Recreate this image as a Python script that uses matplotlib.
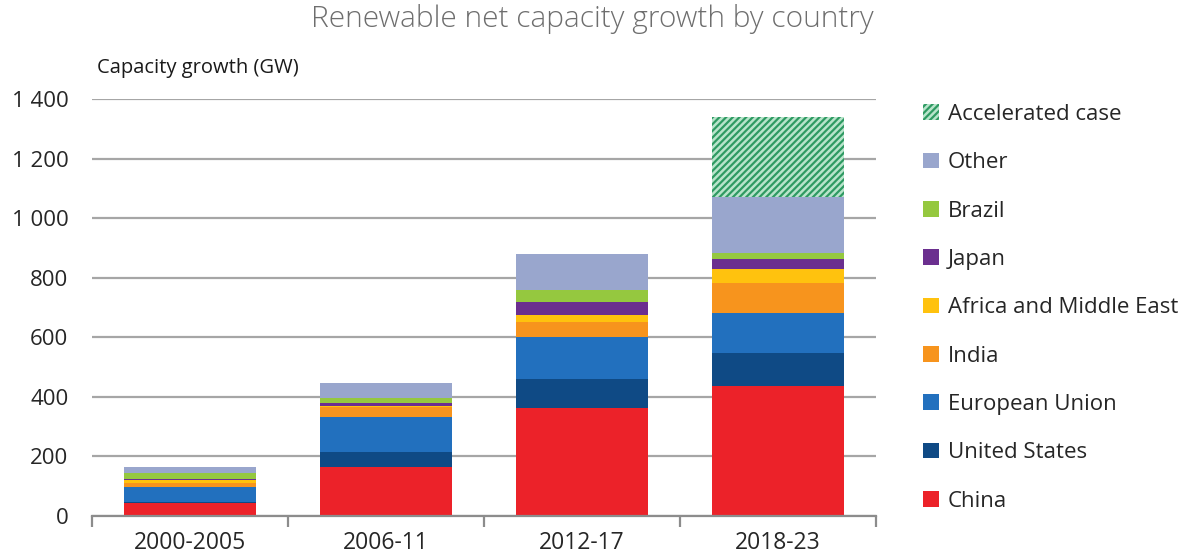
import numpy as np
import matplotlib
matplotlib.use("Agg")
import matplotlib.pyplot as plt
from matplotlib.patches import Patch
from matplotlib.ticker import FuncFormatter

plt.rcParams["font.family"] = ["Open Sans", "DejaVu Sans"]
plt.rcParams["hatch.linewidth"] = 1.8

# values (GW)
periods = ["2000-2005", "2006-11", "2012-17", "2018-23"]
china = [43, 165, 363, 437]
united_states = [4, 50, 97, 111]
european_union = [50, 117, 141, 133]
india = [14, 34, 51, 101]
africa_me = [9, 3, 23, 48]
japan = [4, 10, 42, 32]
brazil = [20, 17, 42, 21]
other = [21, 50, 121, 187]
accelerated = [0, 0, 0, 268]

series = [
    ("China", china, "#EC2229"),
    ("United States", united_states, "#0F4A85"),
    ("European Union", european_union, "#2270BE"),
    ("India", india, "#F7941D"),
    ("Africa and Middle East", africa_me, "#FFC20E"),
    ("Japan", japan, "#6B2F8F"),
    ("Brazil", brazil, "#95C83F"),
    ("Other", other, "#99A6CD"),
]

fig = plt.figure(figsize=(11.9, 5.54), dpi=100)
ax = fig.add_axes([92 / 1190, 1 - 516 / 554, (876 - 92) / 1190, (516 - 99) / 554])

x = np.arange(len(periods))
width = 0.67
bottom = np.zeros(len(periods))
handles = []
for name, vals, col in series:
    ax.bar(x, vals, width, bottom=bottom, color=col, linewidth=0, zorder=2)
    bottom += np.array(vals)
    handles.append(Patch(facecolor=col, label=name))

acc_face, acc_hatch = "#2E9A62", "#B8E4CB"
ax.bar(x, accelerated, width, bottom=bottom, color=acc_face, edgecolor=acc_hatch,
       hatch="/////", linewidth=0, zorder=2)
handles.append(Patch(facecolor=acc_face, edgecolor=acc_hatch, hatch="/////",
                     linewidth=0, label="Accelerated case"))

ax.set_xlim(-0.5, 3.5)
ax.set_ylim(0, 1400)
ax.set_yticks(range(0, 1401, 200))
ax.yaxis.set_major_formatter(FuncFormatter(lambda v, p: f"{int(v):,}".replace(",", " ")))
ax.grid(axis="y", color="#A6A6A6", linewidth=1.6, zorder=0)
ax.set_axisbelow(True)

for s in ["top", "right", "left"]:
    ax.spines[s].set_visible(False)
ax.spines["bottom"].set_color("#8C8C8C")
ax.spines["bottom"].set_linewidth(1.6)

ax.set_xticks(x)
ax.set_xticklabels(periods)
ax.set_xticks(np.arange(-0.5, 4, 1), minor=True)
ax.tick_params(axis="x", which="major", length=0, labelsize=16.5, pad=11, labelcolor="#262626")
ax.tick_params(axis="x", which="minor", length=8, width=1.6, color="#8C8C8C")
ax.tick_params(axis="y", length=0, labelsize=16, pad=17, labelcolor="#262626")

fig.text(592 / 1190, 1 - 19 / 554, "Renewable net capacity growth by country",
         ha="center", va="center", fontsize=21.5, color="#6E6E6E", fontweight="light")
fig.text(97 / 1190, 1 - 68 / 554, "Capacity growth (GW)", ha="left", va="center",
         fontsize=14.5, color="#1A1A1A")

fig.legend(handles=handles[::-1], loc="upper left", bbox_to_anchor=(923 / 1190, 1 - 104 / 554),
           frameon=False, fontsize=16, handlelength=0.7, handleheight=0.7,
           handletextpad=0.42, labelspacing=1.23, borderpad=0, borderaxespad=0,
           labelcolor="#262626")

fig.savefig("out.png", dpi=100)
